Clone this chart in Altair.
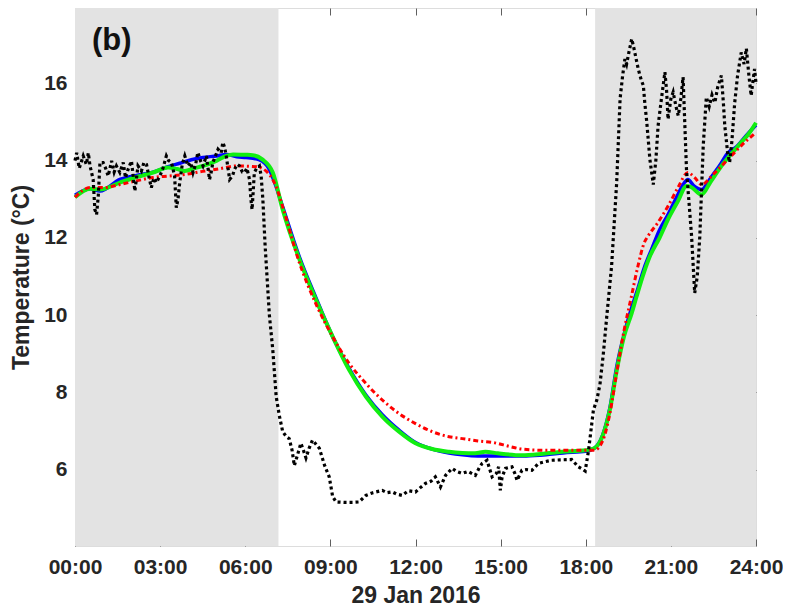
import altair as alt
import pandas as pd

# ---------------- data (hours since midnight, °C) ----------------
x_ticks = [0, 3, 6, 9, 12, 15, 18, 21, 24]
y_ticks = [6, 8, 10, 12, 14, 16]

shade_start = [0.0, 18.33]
shade_end = [7.17, 24.0]

black_t = [0.0, 0.06, 0.15, 0.29, 0.4, 0.47, 0.53, 0.64, 0.7, 0.76, 0.82, 0.88, 0.99, 1.08, 1.17, 1.29,
           1.38, 1.46, 1.58, 1.7, 1.78, 1.87, 1.99, 2.05, 2.11, 2.22, 2.34, 2.43, 2.52, 2.6, 2.69, 2.78,
           2.87, 2.99, 3.1, 3.22, 3.3, 3.4, 3.51, 3.57, 3.63, 3.69, 3.78, 3.87, 3.98, 4.08, 4.16, 4.25,
           4.33, 4.42, 4.51, 4.63, 4.74, 4.8, 4.86, 5.04, 5.15, 5.21, 5.27, 5.33, 5.45, 5.55, 5.62, 5.72,
           5.8, 5.9, 5.97, 6.06, 6.15, 6.2, 6.24, 6.28, 6.32, 6.4, 6.5, 6.56, 6.62, 6.7, 6.85, 6.97,
           7.09, 7.2, 7.32, 7.45, 7.55, 7.65, 7.73, 7.85, 7.96, 8.05, 8.14, 8.25, 8.37, 8.5, 8.61, 8.8,
           8.96, 9.08, 9.2, 9.5, 9.8, 10.01, 10.25, 10.5, 10.83, 11.0, 11.18, 11.35, 11.53, 11.75, 12.0,
           12.2, 12.35, 12.55, 12.7, 12.88, 13.06, 13.29, 13.45, 13.64, 13.85, 14.11, 14.25, 14.35, 14.52,
           14.7, 14.85, 14.93, 14.99, 15.05, 15.17, 15.4, 15.5, 15.58, 15.75, 15.9, 16.1, 16.34, 16.55,
           16.8, 17.1, 17.5, 17.74, 17.9, 17.98, 18.1, 18.27, 18.39, 18.5, 18.62, 18.74, 18.91, 19.09,
           19.21, 19.3, 19.38, 19.44, 19.52, 19.62, 19.7, 19.85, 19.95, 20.03, 20.08, 20.15, 20.26, 20.38,
           20.47, 20.55, 20.65, 20.79, 20.85, 20.9, 21.0, 21.08, 21.18, 21.26, 21.35, 21.43, 21.55, 21.73,
           21.84, 21.93, 22.02, 22.14, 22.25, 22.35, 22.45, 22.55, 22.65, 22.78, 22.85, 22.9, 23.0, 23.07,
           23.15, 23.25, 23.35, 23.48, 23.58, 23.66, 23.75, 23.83, 23.9, 23.95, 24.0]
black_v = [14.0, 14.2, 13.8, 14.12, 13.9, 14.2, 13.86, 13.51, 12.73, 12.6, 13.08, 13.95, 13.95, 13.8, 13.6, 13.99,
           13.7, 13.86, 13.69, 13.95, 13.55, 13.77, 13.99, 13.6, 13.21, 13.86, 13.73, 13.95, 13.9, 13.6, 13.3, 13.55,
           13.43, 13.6, 13.8, 14.12, 14.0, 13.95, 13.6, 12.78, 13.0, 13.43, 13.9, 14.12, 13.86, 13.95, 13.69, 13.9,
           14.21, 14.0, 13.86, 14.12, 13.51, 13.7, 13.95, 14.29, 14.2, 14.47, 14.35, 14.12, 13.51, 13.6, 13.77, 13.9,
           13.86, 13.7, 13.69, 13.8, 13.51, 13.0, 12.73, 13.2, 13.69, 13.8, 13.86, 13.6, 13.0, 11.8, 10.0, 9.1,
           7.89, 7.4, 6.98, 6.85, 6.8, 6.5, 6.1, 6.4, 6.68, 6.5, 6.3, 6.55, 6.76, 6.65, 6.55, 6.1,
           5.81, 5.3, 5.16, 5.15, 5.15, 5.16, 5.33, 5.4, 5.46, 5.4, 5.42, 5.36, 5.33, 5.45, 5.42,
           5.55, 5.64, 5.7, 5.81, 5.55, 5.85, 6.03, 5.95, 5.9, 5.95, 5.85, 6.05, 6.16, 6.24,
           5.81, 5.9, 6.07, 5.46, 5.8, 6.03, 6.07, 5.9, 5.72, 5.98, 6.0, 5.98, 6.16, 6.2,
           6.24, 6.25, 6.26, 6.07, 6.0, 5.96, 6.5, 7.54, 7.8, 8.2, 9.0, 9.96, 11.26, 13.43,
           15.6, 16.2, 16.63, 16.5, 16.8, 17.15, 16.9, 16.37, 16.1, 15.94, 15.5, 15.0, 14.03, 13.38,
           14.0, 14.9, 15.5, 16.29, 15.8, 15.07, 15.6, 15.77, 15.4, 15.16, 15.6, 16.16, 13.77, 12.04,
           10.57, 11.0, 12.04, 14.38, 15.64, 15.4, 15.7, 15.5, 15.9, 16.2, 15.5, 14.9, 14.2, 13.95,
           14.5, 15.5, 16.2, 16.8, 16.5, 16.9, 16.2, 15.68, 16.1, 16.37, 16.0]

blue_t = [0, 0.53, 0.88, 1.58, 2.2, 2.75, 3.2, 3.69, 4.1, 4.51, 5.0, 5.33, 5.7, 6.03, 6.5, 6.85, 7.05, 7.32,
          7.91, 8.49, 9.08, 9.66, 10.25, 10.83, 11.42, 12.0, 12.59, 13.18, 13.65, 14.2, 14.8, 15.9, 16.6,
          17.2, 18.0, 18.3, 18.6, 18.85, 19.1, 19.35, 19.6, 19.8, 20.05, 20.32, 20.6, 20.9, 21.2, 21.45,
          21.6, 21.8, 22.08, 22.4, 22.7, 23.01, 23.3, 23.6, 24.0]
blue_v = [13.1, 13.27, 13.21, 13.51, 13.62, 13.7, 13.82, 13.93, 14.02, 14.08, 14.12, 14.16, 14.1, 14.08, 14.02,
          13.77, 13.4, 12.8, 11.5, 10.45, 9.44, 8.62, 7.93, 7.42, 7.02, 6.7, 6.53, 6.43, 6.38, 6.35, 6.35,
          6.35, 6.38, 6.43, 6.47, 6.55, 6.9, 7.6, 8.7, 9.5, 10.15, 10.6, 11.2, 11.7, 12.2, 12.6, 13.05,
          13.4, 13.51, 13.35, 13.25, 13.55, 13.85, 14.2, 14.35, 14.6, 14.92]

green_t = [0, 0.53, 0.88, 1.58, 2.2, 2.75, 3.28, 3.6, 3.87, 4.2, 4.51, 5.0, 5.33, 5.57, 6.0, 6.26, 6.6, 6.97,
           7.32, 7.91, 8.49, 9.08, 9.66, 10.25, 10.83, 11.42, 12.0, 12.59, 13.18, 13.65, 14.1, 14.46, 14.9,
           15.75, 16.5, 17.16, 18.0, 18.3, 18.6, 18.85, 19.1, 19.35, 19.62, 19.79, 20.05, 20.26, 20.6, 20.9,
           21.25, 21.55, 21.7, 22.08, 22.4, 22.78, 23.1, 23.48, 23.75, 24.0]
green_v = [13.05, 13.27, 13.25, 13.43, 13.58, 13.69, 13.82, 13.78, 13.73, 13.8, 13.86, 14.0, 14.12, 14.16, 14.15,
           14.14, 14.03, 13.69, 12.73, 11.44, 10.4, 9.44, 8.58, 7.89, 7.37, 6.98, 6.68, 6.53, 6.46, 6.43, 6.42,
           6.46, 6.42, 6.37, 6.41, 6.46, 6.5, 6.55, 6.88, 7.55, 8.6, 9.45, 10.05, 10.48, 11.1, 11.52, 12.0,
           12.48, 12.95, 13.34, 13.32, 13.12, 13.45, 13.86, 14.15, 14.47, 14.7, 14.98]

red_t = [0, 0.53, 1.0, 1.58, 2.2, 2.75, 3.3, 3.87, 4.5, 5.1, 5.69, 6.38, 6.73, 7.08, 7.32, 7.91, 8.49, 9.08,
         9.66, 10.25, 10.83, 11.42, 12.0, 12.59, 13.18, 13.65, 14.2, 14.8, 15.3, 15.74, 16.5, 17.3, 18.0,
         18.3, 18.6, 18.85, 19.1, 19.35, 19.6, 19.85, 20.05, 20.2, 20.5, 20.9, 21.25, 21.6, 21.85, 22.08,
         22.5, 23.01, 23.5, 24.0]
red_v = [13.05, 13.3, 13.3, 13.38, 13.48, 13.56, 13.6, 13.64, 13.72, 13.79, 13.86, 13.84, 13.73, 13.34, 12.8,
         11.35, 10.29, 9.44, 8.75, 8.23, 7.8, 7.45, 7.19, 6.98, 6.85, 6.8, 6.74, 6.69, 6.6, 6.53, 6.5, 6.5,
         6.5, 6.5, 6.75, 7.45, 8.55, 9.6, 10.45, 11.3, 11.85, 12.05, 12.35, 12.82, 13.3, 13.69, 13.55, 13.38,
         13.65, 14.03, 14.4, 14.73]

panel_label = "(b)"

# ---------------- chart ----------------
FONT = "Liberation Sans"
TXT = "#262626"
FRAME = "#5f5f5f"
TICK = 7

xs = alt.Scale(domain=[0, 24], nice=False, zero=False)
ys = alt.Scale(domain=[4.02, 17.95], nice=False, zero=False)
label_expr = "(datum.value < 10 ? '0' : '') + datum.value + ':00'"

main_x_axis = alt.Axis(orient="bottom", values=x_ticks, labelExpr=label_expr, title="29 Jan 2016",
                       ticks=False, domain=False, grid=False, labelFont=FONT, labelFontSize=21,
                       labelFontWeight="bold", labelColor=TXT, labelPadding=10, labelFlush=False,
                       labelOverlap=False, labelBound=False, titleFont=FONT,
                       titleFontSize=23, titleFontWeight="bold", titleColor=TXT, titlePadding=7)
main_y_axis = alt.Axis(orient="left", values=y_ticks, title="Temperature (°C)", ticks=False,
                       domain=False, grid=False, labelFont=FONT, labelFontSize=21, labelFontWeight="bold",
                       labelColor=TXT, labelPadding=8, labelFlush=False, labelOverlap=False,
                       titleFont=FONT, titleFontSize=23,
                       titleFontWeight="bold", titleColor=TXT, titlePadding=10)


def tick_axis(orient, values):
    return alt.Axis(orient=orient, offset=-TICK, values=values, labels=False, ticks=True,
                    tickSize=TICK, tickColor=FRAME, tickWidth=1, domain=False, grid=False, title=None)


shade_df = pd.DataFrame({"s": shade_start, "e": shade_end})
shade = alt.Chart(shade_df).mark_rect(color="#e3e3e3").encode(
    x=alt.X("s:Q", scale=xs, axis=main_x_axis), x2="e:Q")


def line_df(t, v):
    return pd.DataFrame({"t": t, "v": v})


blue = alt.Chart(line_df(blue_t, blue_v)).mark_line(
    color="#0000ff", strokeWidth=3.5, interpolate="monotone").encode(
    x=alt.X("t:Q", scale=xs, axis=tick_axis("top", x_ticks)),
    y=alt.Y("v:Q", scale=ys, axis=tick_axis("left", y_ticks)))

green = alt.Chart(line_df(green_t, green_v)).mark_line(
    color="#11ee11", strokeWidth=4, interpolate="monotone").encode(
    x=alt.X("t:Q", scale=xs, axis=None),
    y=alt.Y("v:Q", scale=ys, axis=tick_axis("right", y_ticks)))

red = alt.Chart(line_df(red_t, red_v)).mark_line(
    color="#ff0000", strokeWidth=3, strokeDash=[5, 3, 2, 3], interpolate="monotone").encode(
    x=alt.X("t:Q", scale=xs, axis=None),
    y=alt.Y("v:Q", scale=ys, axis=None))

black = alt.Chart(line_df(black_t, black_v)).mark_line(
    color="#000000", strokeWidth=3.2, strokeDash=[3, 3]).encode(
    x=alt.X("t:Q", scale=xs, axis=tick_axis("bottom", x_ticks)),
    y=alt.Y("v:Q", scale=ys, axis=main_y_axis))

label = alt.Chart(alt.Data(values=[{"txt": panel_label}])).mark_text(
    font=FONT, fontSize=31, fontWeight="bold", color="#111111", align="left", baseline="middle").encode(
    text="txt:N", x=alt.value(17), y=alt.value(33))

chart = alt.layer(shade, blue, green, red, black, label).resolve_axis(
    x="independent", y="independent").properties(
    width=681, height=538, padding={"left": 67, "top": 0, "right": 27, "bottom": 62},
    autosize=alt.AutoSizeParams(type="none")).configure_view(
    stroke=FRAME, strokeWidth=1).configure(background="white")

chart.save("out.html", embed_options={"renderer": "svg", "actions": False})
